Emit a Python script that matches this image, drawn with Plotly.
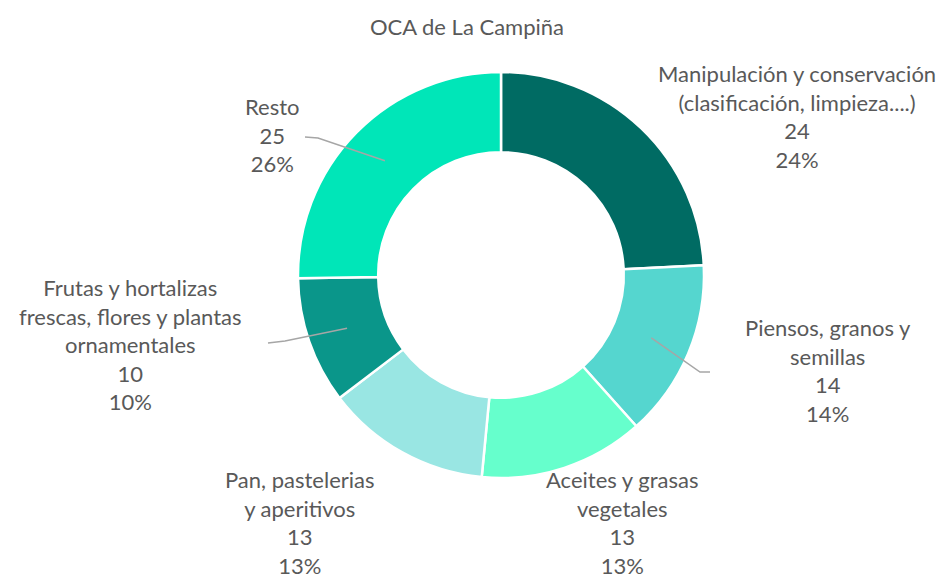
import math
import plotly.graph_objects as go

# ---- data ----
categories = [
    "Manipulación y conservación<br>(clasificación, limpieza....)",
    "Piensos, granos y<br>semillas",
    "Aceites y grasas<br>vegetales",
    "Pan, pastelerias<br>y aperitivos",
    "Frutas y hortalizas<br>frescas, flores y plantas<br>ornamentales",
    "Resto",
]
values = [24, 14, 13, 13, 10, 25]
percent_labels = ["24%", "14%", "13%", "13%", "10%", "26%"]
colors = ["#006B63", "#55D6CF", "#66FFCC", "#99E6E3", "#0A968A", "#00E6B8"]
title_text = "OCA de La Campiña"

# ---- layout (pixels) ----
W, H = 944, 581
CX, CY, R = 501, 275, 203
HOLE = 0.605
label_pos = [(797, 117), (828, 371), (622, 522), (300, 522), (130, 344), (272, 135)]
# leader end points (None = no leader); list of outer path points
leader_ends = [None, [(710, 372), (700, 372)], None, None, [(268, 343), (285, 341)], [(305, 137), (318, 138)]]

FONT = "Lato"
TXT = "#595959"
FS = 22


def paper(x, y):
    return x / W, 1 - y / H


fig = go.Figure()
fig.add_trace(go.Pie(
    values=values,
    labels=categories,
    sort=False,
    direction="clockwise",
    rotation=0,
    hole=HOLE,
    marker=dict(colors=colors, line=dict(color="white", width=2.5)),
    textinfo="none",
    hoverinfo="label+value",
    showlegend=False,
    domain=dict(x=[(CX - R) / W, (CX + R) / W], y=[1 - (CY + R) / H, 1 - (CY - R) / H]),
))

total = sum(values)
cum = 0
annotations = []
shapes = []
r_mid = R * (1 + HOLE) / 2
for i, v in enumerate(values):
    mid = (cum + v / 2) / total * 2 * math.pi
    cum += v
    lx, ly = label_pos[i]
    ax, ay = paper(lx, ly)
    annotations.append(dict(
        x=ax, y=ay, xref="paper", yref="paper", showarrow=False,
        text=f"{categories[i]}<br>{v}<br>{percent_labels[i]}",
        align="center", xanchor="center", yanchor="middle",
        font=dict(family=FONT, size=FS, color=TXT),
    ))
    if leader_ends[i]:
        ix = CX + r_mid * math.sin(mid)
        iy = CY - r_mid * math.cos(mid)
        pts = list(leader_ends[i]) + [(ix, iy)]
        path = ""
        for j, (px_, py_) in enumerate(pts):
            X, Y = paper(px_, py_)
            path += ("M" if j == 0 else " L") + f" {X:.5f} {Y:.5f}"
        shapes.append(dict(type="path", path=path, xref="paper", yref="paper",
                           line=dict(color="#A6A6A6", width=1.5)))

fig.update_layout(
    width=W, height=H,
    margin=dict(l=0, r=0, t=0, b=0),
    paper_bgcolor="white", plot_bgcolor="white",
    title=dict(text=title_text, x=467 / W, xanchor="center", y=1 - 27 / H, yanchor="middle",
               font=dict(family=FONT, size=FS, color=TXT)),
    annotations=annotations,
    shapes=shapes,
)

fig.write_html("out.html", config={"displayModeBar": False},
               post_script="document.body.style.margin='0px';")
